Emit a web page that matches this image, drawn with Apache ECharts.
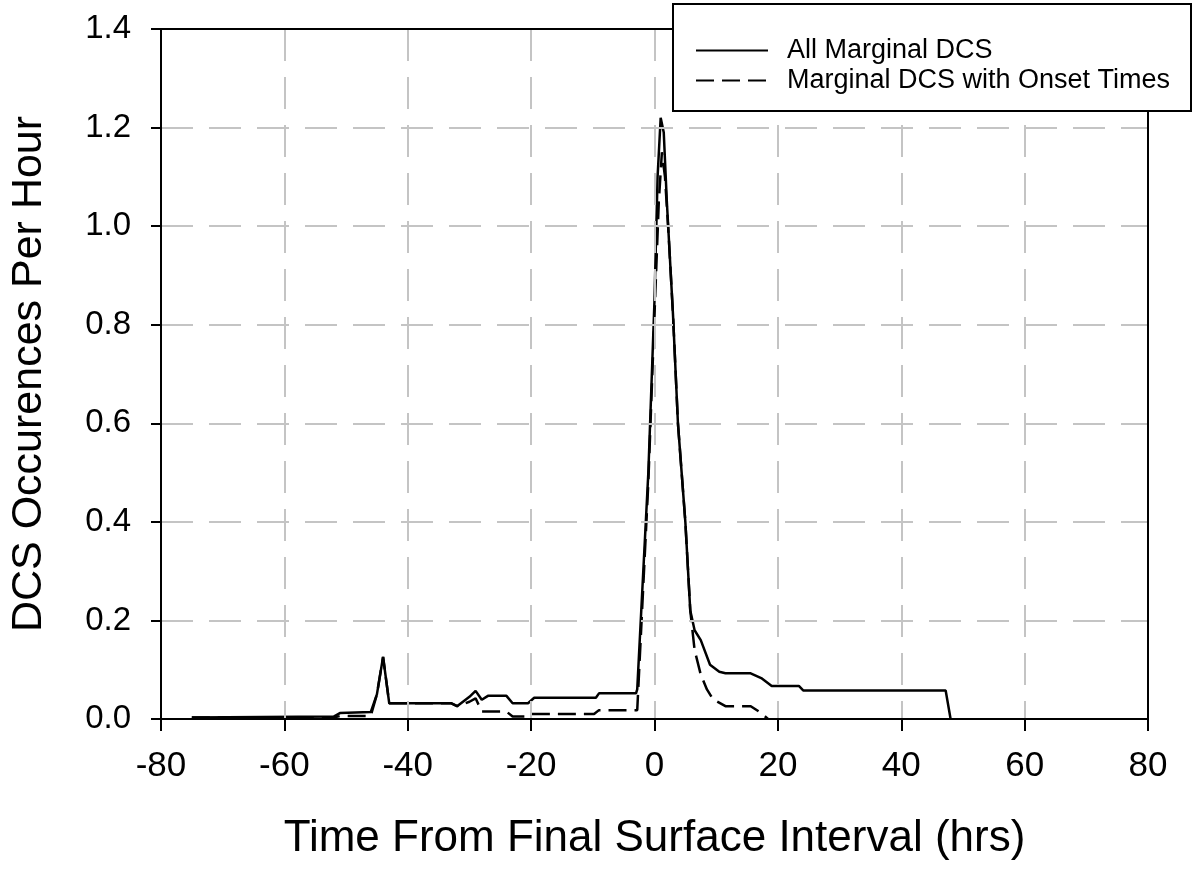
<!DOCTYPE html>
<html>
<head>
<meta charset="utf-8">
<script src="https://cdn.jsdelivr.net/npm/echarts@6/dist/echarts.min.js"></script>
<style>
html,body{margin:0;padding:0;background:#fff;}
#chart{width:1198px;height:869px;}
</style>
</head>
<body>
<div id="chart"></div>
<script>
// ---- Data ----
const seriesNames = ["All Marginal DCS", "Marginal DCS with Onset Times"];
const xTicks = [-80, -60, -40, -20, 0, 20, 40, 60, 80];
const yTicks = [0.0, 0.2, 0.4, 0.6, 0.8, 1.0, 1.2, 1.4];

const allTimes = [-75, -52, -51, -46, -45, -44, -43, -33, -32, -30, -29, -28, -27, -24, -23, -20.5, -19.5, -9.5, -9, -3, -2.8, -1, 0, 0.5, 1, 1.5, 2, 3, 3.8, 5, 5.8, 6.5, 7.5, 9, 10.5, 11.5, 15.5, 17.3, 19, 23.4, 24.1, 47.2, 48];
const allValues = [0.003, 0.005, 0.012, 0.014, 0.05, 0.126, 0.032, 0.032, 0.026, 0.045, 0.057, 0.039, 0.047, 0.047, 0.032, 0.032, 0.043, 0.043, 0.052, 0.052, 0.06, 0.5, 0.85, 1.1, 1.22, 1.19, 1.05, 0.82, 0.6, 0.4, 0.22, 0.18, 0.16, 0.11, 0.096, 0.093, 0.093, 0.083, 0.067, 0.067, 0.058, 0.058, 0];

const onsetTimes = [-75, -52, -51, -46, -45, -44, -43, -33, -32, -30, -29, -28, -24, -23, -21, -20, -9.8, -9, -2.8, -1, 0, 0.7, 1.2, 1.7, 2.3, 3, 3.8, 5, 5.8, 6.5, 7.5, 8.5, 9.5, 11.5, 15.6, 17.3, 18.4];
const onsetValues = [0.003, 0.003, 0.006, 0.006, 0.05, 0.126, 0.032, 0.032, 0.026, 0.035, 0.042, 0.015, 0.015, 0.005, 0.005, 0.01, 0.01, 0.018, 0.018, 0.48, 0.82, 1.05, 1.15, 1.1, 0.98, 0.82, 0.6, 0.4, 0.22, 0.14, 0.09, 0.06, 0.04, 0.026, 0.026, 0.012, 0];

const xTitle = "Time From Final Surface Interval (hrs)";
const yTitle = "DCS Occurences Per Hour";

// ---- Build ----
const pairs = (xs, ys) => xs.map((x, i) => [x, ys[i]]);
const FONT = '"Liberation Sans", Arial, sans-serif';
const gridLine = { show: true, lineStyle: { color: '#c4c4c4', width: 2, type: [32, 16] } };
const frameAxis = {
  axisLine: { show: true, onZero: false, lineStyle: { color: '#000', width: 2 } },
  axisTick: { show: false }, axisLabel: { show: false }, splitLine: { show: false }, z: 5
};

const chart = echarts.init(document.getElementById('chart'));
chart.setOption({
  backgroundColor: '#ffffff',
  animation: false,
  grid: { left: 160, right: 50, top: 29, bottom: 150 },
  xAxis: [{
    type: 'value', min: xTicks[0], max: xTicks[xTicks.length - 1], interval: 20, position: 'bottom',
    name: xTitle, nameLocation: 'middle', nameGap: 98,
    nameTextStyle: { fontSize: 44, color: '#000', fontFamily: FONT },
    axisLine: { show: true, onZero: false, lineStyle: { color: '#000', width: 2 } },
    axisTick: { show: true, inside: false, length: 12, lineStyle: { color: '#000', width: 2 } },
    axisLabel: { fontSize: 35, color: '#000', fontFamily: FONT, margin: 30, formatter: v => String(v) },
    splitLine: gridLine, z: 5
  }, Object.assign({ type: 'value', min: xTicks[0], max: xTicks[xTicks.length - 1], interval: 20, position: 'top' }, frameAxis)],
  yAxis: [{
    type: 'value', min: yTicks[0], max: yTicks[yTicks.length - 1], interval: 0.2, position: 'left',
    name: yTitle, nameLocation: 'middle', nameGap: 110, nameRotate: 90,
    nameTextStyle: { fontSize: 43, color: '#000', fontFamily: FONT },
    axisLine: { show: true, onZero: false, lineStyle: { color: '#000', width: 2 } },
    axisTick: { show: true, inside: false, length: 10, lineStyle: { color: '#000', width: 2 } },
    axisLabel: { fontSize: 33, color: '#000', fontFamily: FONT, margin: 30, formatter: v => v.toFixed(1) },
    splitLine: gridLine, z: 5
  }, Object.assign({ type: 'value', min: yTicks[0], max: yTicks[yTicks.length - 1], interval: 0.2, position: 'right' }, frameAxis)],
  legend: {
    data: seriesNames, orient: 'vertical', left: 690, top: 32, z: 20,
    itemWidth: 72, itemHeight: 16, itemGap: 3,
    itemStyle: { color: 'transparent', borderColor: 'transparent', borderWidth: 0, opacity: 0 },
    textStyle: { fontSize: 27, color: '#000', fontFamily: FONT, padding: [0, 0, 0, 14] },
    backgroundColor: 'transparent', borderWidth: 0
  },
  graphic: [{
    type: 'rect', left: 672, top: 3, z: 10,
    shape: { width: 518, height: 107 },
    style: { fill: '#fff', stroke: '#000', lineWidth: 2 }
  }],
  series: [
    {
      name: seriesNames[0], type: 'line', data: pairs(allTimes, allValues),
      symbol: 'none', showSymbol: false, z: 3,
      lineStyle: { color: '#000', width: 2.5, type: 'solid' },
      itemStyle: { color: '#000' }
    },
    {
      name: seriesNames[1], type: 'line', data: pairs(onsetTimes, onsetValues),
      symbol: 'none', showSymbol: false, z: 4,
      lineStyle: { color: '#000', width: 2.5, type: [18, 8] },
      itemStyle: { color: '#000' }
    }
  ]
});
</script>
</body>
</html>
